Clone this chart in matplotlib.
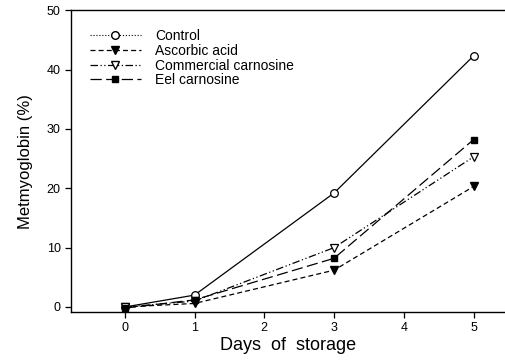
import matplotlib
matplotlib.use("Agg")
import matplotlib.pyplot as plt
from matplotlib.lines import Line2D

plt.rcParams['font.family'] = ['Liberation Sans', 'DejaVu Sans']

days = [0, 1, 3, 5]
control = [0.0, 2.0, 19.2, 42.3]
ascorbic = [0.0, 0.6, 6.2, 20.3]
commercial = [0.0, 1.0, 10.0, 25.3]
eel = [-0.2, 1.2, 8.2, 28.2]
names = ["Control", "Ascorbic acid", "Commercial carnosine", "Eel carnosine"]

fig = plt.figure(figsize=(5.05, 3.62), dpi=100)
ax = fig.add_axes([0.1406, 0.138, 0.8594, 0.834])

ax.plot(days, control, color='black', lw=0.9, ls='-', marker='o', ms=5.5,
        mfc='white', mec='black', mew=0.9)
ax.plot(days, ascorbic, color='black', lw=0.9, ls=(0, (4, 2.5)), marker='v', ms=5.5,
        mfc='black', mec='black')
ax.plot(days, commercial, color='black', lw=0.9, ls=(0, (6, 2, 1, 2, 1, 2)), marker='v', ms=5.5,
        mfc='white', mec='black', mew=0.9)
ax.plot(days, eel, color='black', lw=0.9, ls=(0, (9, 3.5)), marker='s', ms=5,
        mfc='black', mec='black')

# legend handles as drawn in the figure (control shown dotted)
handles = [
    Line2D([], [], color='black', lw=0.8, ls=':', marker='o', ms=5.5, mfc='white', mec='black'),
    Line2D([], [], color='black', lw=0.9, ls=(0, (4, 2.5)), marker='v', ms=5.5, mfc='black', mec='black'),
    Line2D([], [], color='black', lw=0.9, ls=(0, (6, 2, 1, 2, 1, 2)), marker='v', ms=5.5, mfc='white', mec='black'),
    Line2D([], [], color='black', lw=0.9, ls=(0, (9, 3.5)), marker='s', ms=5, mfc='black', mec='black'),
]
ax.legend(handles, names, loc='upper left', bbox_to_anchor=(0.03, 0.955), frameon=False,
          fontsize=10, handlelength=3.7, handletextpad=1.0, labelspacing=0.05,
          borderaxespad=0.0)

ax.set_xlim(-0.77, 5.45)
ax.set_ylim(-0.85, 50)
ax.set_xticks([0, 1, 2, 3, 4, 5])
ax.set_yticks([0, 10, 20, 30, 40, 50])
ax.tick_params(direction='out', length=4, width=0.9, labelsize=9)
ax.spines['right'].set_visible(False)
for s in ['left', 'bottom', 'top']:
    ax.spines[s].set_linewidth(1.0)

ax.set_xlabel("Days  of  storage", fontsize=13, labelpad=2)
ax.set_ylabel("Metmyoglobin (%)", fontsize=12, labelpad=10)

fig.savefig("out.png", dpi=100)
